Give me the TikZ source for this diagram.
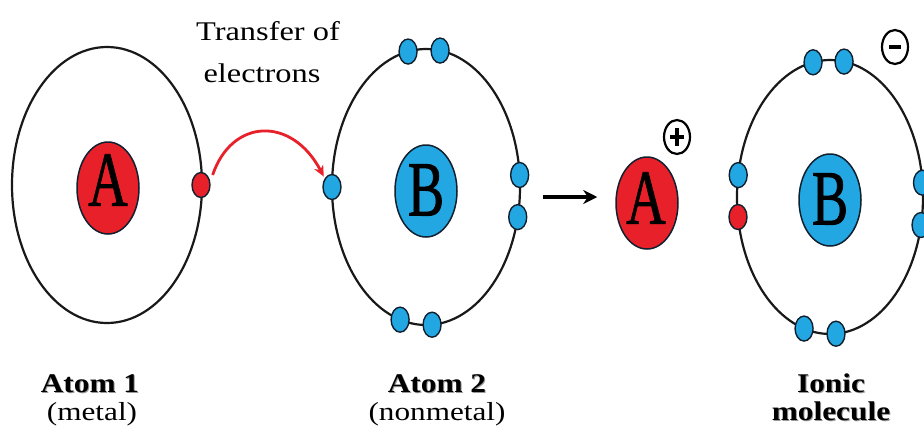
\documentclass[tikz,border=0pt]{standalone}
\usepackage{fontspec}
\setmainfont[FakeStretch=1.2]{Liberation Serif}
\newfontfamily\nucfont[FakeBold=1.2]{Liberation Serif}
\newfontfamily\capfont[FakeStretch=1.16]{Liberation Serif Bold}
\usetikzlibrary{shapes.geometric,arrows.meta}

\definecolor{nucred}{HTML}{E8202A}
\definecolor{elblue}{HTML}{22A7E2}
\definecolor{edgedark}{HTML}{10202E}

\tikzset{
  orbit/.style={draw=black!90, line width=2.2pt},
  nucleus/.style={ellipse, draw=edgedark, line width=1.5pt, minimum width=62pt, minimum height=92pt, inner sep=0pt},
  nucletter/.style={inner sep=0pt, font=\nucfont\fontsize{78}{78}\selectfont},
  electron/.style={ellipse, draw=edgedark, line width=1.4pt, minimum width=18pt, minimum height=25pt, inner sep=0pt},
  blueel/.style={electron, fill=elblue},
  redel/.style={electron, fill=nucred},
  charge/.style={ellipse, draw=black, line width=2.2pt, minimum width=26pt, minimum height=34pt, inner sep=0pt},
  toptext/.style={font=\fontsize{27}{27}\selectfont, anchor=base, inner sep=0pt},
  captitle/.style={font=\capfont\fontsize{27}{27}\selectfont, anchor=base, inner sep=0pt},
  capshadow/.style={captitle, text=black!40},
  capsub/.style={font=\fontsize{26}{26}\selectfont, anchor=base, inner sep=0pt},
}
\newcommand{\nucA}{\scalebox{0.7}[1]{A}}
\newcommand{\nucB}{\scalebox{0.7}[1]{B}}

\begin{document}
\begin{tikzpicture}[x=1pt,y=1pt]
\useasboundingbox (0,0) rectangle (924,-437);
\clip (0,0) rectangle (924,-437);
\fill[white] (0,0) rectangle (924,-437);

% ---- Atom 1 (metal) ----
\draw[orbit] (107,-185) ellipse [x radius=95, y radius=138];
\node[nucleus, fill=nucred] (nA) at (108,-188) {};
\node[nucletter] (nAt) at (108,-180) {\nucA};
\node[redel] (ea) at (201,-185) {};

% ---- Atom 2 (nonmetal) ----
\draw[orbit] (426,-187) ellipse [x radius=94, y radius=138];
\node[nucleus, fill=elblue] (nB) at (426,-191) {};
\node[nucletter] (nBt) at (426,-190) {\nucB};
\foreach \t [count=\i] in {180,101,81.4,5,-12.6,-106,-86.3}
  \node[blueel] (b\i) at ({426+94*cos(\t)},{-187+138*sin(\t)}) {};

% ---- transfer of the electron ----
\node[toptext] (tr1) at (268,-40) {Transfer of};
\node[toptext] (tr2) at (262,-82) {electrons};
\draw[nucred, line width=2.8pt, -{Stealth[length=11pt,width=10pt]}, shorten <=7pt, shorten >=2pt]
  (ea.20) .. controls (232,-118) and (292,-116) .. (b1.130);

% ---- reaction arrow ----
\coordinate (rs) at (543,-197);
\node[nucleus, fill=nucred] (iA) at (647,-203) {};
\node[nucletter] (iAt) at (646,-198) {\nucA};
\draw[black, line width=3.4pt, -{Stealth[length=14pt,width=14pt]}, shorten >=18pt] (rs) -- (iA.west |- rs);

% ---- positive charge ----
\node[charge] (plus) at (677,-137) {};
\draw[line width=3.2pt] ([xshift=-7pt]plus.center) -- ([xshift=7pt]plus.center);
\draw[line width=3.2pt] ([yshift=-9pt]plus.center) -- ([yshift=9pt]plus.center);

% ---- ion B with the gained electron ----
\draw[orbit] (830,-197) ellipse [x radius=93, y radius=137];
\node[nucleus, fill=elblue] (iB) at (830,-200) {};
\node[nucletter] (iBt) at (830,-199) {\nucB};
\foreach \t [count=\i] in {170.8,100.5,81.3,6,-11.8,-106.2,-86.3}
  \node[blueel] (c\i) at ({830+93*cos(\t)},{-197+137*sin(\t)}) {};
\node[redel] (cr) at ({830+93*cos(188.4)},{-197+137*sin(188.4)}) {};

% ---- negative charge ----
\node[charge] (minus) at (895,-47) {};
\draw[line width=4pt] ([xshift=-6pt]minus.center) -- ([xshift=6pt]minus.center);

% ---- captions, bold titles with a soft drop shadow ----
\foreach \x/\y/\s in {90/392/Atom 1, 437/392/Atom 2, 831/392/Ionic, 831/420/molecule}
  \node[capshadow] at (\x+1,-\y-1) {\s};
\node[captitle] (l1) at (90,-392) {Atom 1};
\node[capsub] (l1s) at (92,-420) {(metal)};
\node[captitle] (l2) at (437,-392) {Atom 2};
\node[capsub] (l2s) at (437,-420) {(nonmetal)};
\node[captitle] (l3) at (831,-392) {Ionic};
\node[captitle] (l3s) at (831,-420) {molecule};
\end{tikzpicture}
\end{document}
